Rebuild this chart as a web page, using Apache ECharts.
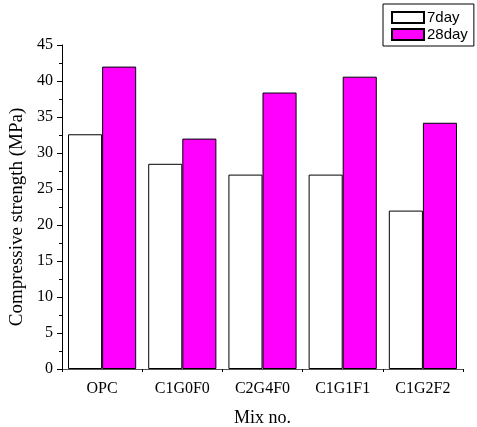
<!DOCTYPE html>
<html>
<head>
<meta charset="utf-8">
<script src="https://cdn.jsdelivr.net/npm/echarts@6/dist/echarts.min.js"></script>
<style>html,body{margin:0;padding:0;background:#fff}#c{width:477px;height:427px}</style>
</head>
<body>
<div id="c"></div>
<script>
const categories = ['OPC', 'C1G0F0', 'C2G4F0', 'C1G1F1', 'C1G2F2'];
const day7 = [32.6, 28.5, 27.0, 27.0, 22.0];
const day28 = [42.0, 32.0, 38.4, 40.6, 34.2];
const seriesNames = ['7day', '28day'];

const chart = echarts.init(document.getElementById('c'), null, {renderer: 'canvas'});
const serif = '"Liberation Serif", "Times New Roman", serif';
chart.setOption({
  animation: false,
  backgroundColor: '#fff',
  grid: {left: 62, right: 14, top: 45, bottom: 58, containLabel: false, outerBoundsMode: 'none'},
  legend: {
    orient: 'vertical', left: 383, top: 4,
    padding: [6, 6, 4, 8],
    borderColor: '#000', borderWidth: 1,
    itemWidth: 32, itemHeight: 11, itemGap: 2,
    icon: 'rect',
    textStyle: {fontFamily: '"Liberation Sans", Arial, sans-serif', fontSize: 15, color: '#000', padding: [0,0,0,-2], lineHeight: 15},
    data: seriesNames
  },
  xAxis: [{
    type: 'category', data: categories, position: 'bottom',
    name: 'Mix no.', nameLocation: 'middle', nameGap: 40,
    nameTextStyle: {fontFamily: serif, fontSize: 18, color: '#000'},
    axisLine: {lineStyle: {color: '#555', width: 1}},
    axisTick: {alignWithLabel: true, length: 6, lineStyle: {color: '#000'}},
    axisLabel: {fontFamily: serif, fontSize: 16, color: '#000', margin: 12}
  }, {
    type: 'category', data: categories, position: 'bottom', offset: 0,
    axisLine: {show: false},
    axisTick: {show: true, length: 3, lineStyle: {color: '#000'}},
    axisLabel: {show: false}
  }],
  yAxis: {
    type: 'value', min: 0, max: 45, interval: 5,
    name: 'Compressive strength (MPa)', nameLocation: 'middle', nameGap: 31,
    nameTextStyle: {fontFamily: serif, fontSize: 19, color: '#000', padding: [0, 20, 0, 0]},
    axisLine: {show: true, lineStyle: {color: '#000'}},
    axisTick: {show: true, length: 5, lineStyle: {color: '#000'}},
    minorTick: {show: true, splitNumber: 2, length: 3, lineStyle: {color: '#000'}},
    splitLine: {show: false},
    axisLabel: {fontFamily: serif, fontSize: 16, color: '#000', margin: 9}
  },
  series: [{
    name: seriesNames[0], type: 'bar', data: day7, xAxisIndex: 0,
    barGap: '0%', barCategoryGap: '15%',
    itemStyle: {color: '#fff', borderColor: '#000', borderWidth: 1}
  }, {
    name: seriesNames[1], type: 'bar', data: day28, xAxisIndex: 0,
    barGap: '0%', barCategoryGap: '15%',
    itemStyle: {color: '#ff00ff', borderColor: '#000', borderWidth: 1}
  }]
});
</script>
</body>
</html>
